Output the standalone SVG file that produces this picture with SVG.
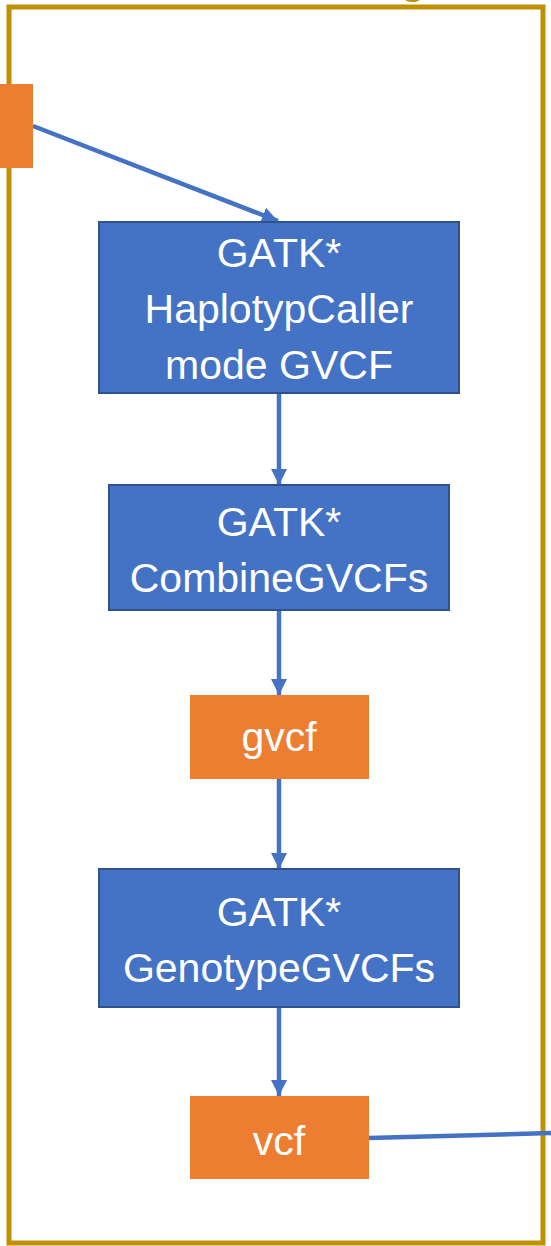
<svg xmlns="http://www.w3.org/2000/svg" width="551" height="1246" viewBox="0 0 551 1246">
<style>
.proc{fill:#4472C4;stroke:#2F528F;stroke-width:2}
.data{fill:#ED7D31}
.lbl{fill:#FFFFFF;font-family:"Liberation Sans","Open Sans",sans-serif;font-size:41px;text-anchor:middle}
.conn{stroke:#4472C4;stroke-width:4.5;fill:none}
</style>
<defs>
<marker id="ah" markerUnits="userSpaceOnUse" markerWidth="17" markerHeight="16" refX="16" refY="8" orient="auto">
<path d="M0,0 L16,8 L0,16 Z" fill="#4472C4"/>
</marker>
</defs>
<rect x="0" y="0" width="551" height="1246" fill="#FFFFFF"/>
<g id="frame">
<rect x="9" y="7" width="534" height="1236" fill="none" stroke="#BF9000" stroke-width="5"/>
<text x="413" y="-6" fill="#BF9000" font-family="Liberation Sans, sans-serif" font-size="40" font-weight="bold" text-anchor="middle">g</text>
</g>
<g id="connectors">
<line class="conn" x1="33" y1="126" x2="278" y2="221" marker-end="url(#ah)"/>
<line class="conn" x1="279" y1="394" x2="279" y2="485" marker-end="url(#ah)"/>
<line class="conn" x1="279" y1="611" x2="279" y2="695" marker-end="url(#ah)"/>
<line class="conn" x1="279" y1="779" x2="279" y2="869" marker-end="url(#ah)"/>
<line class="conn" x1="279" y1="1008" x2="279" y2="1096" marker-end="url(#ah)"/>
<line class="conn" x1="369" y1="1138" x2="551" y2="1133"/>
</g>
<g id="input">
<rect class="data" x="0" y="84" width="33" height="84"/>
</g>
<g id="haplotypecaller">
<rect class="proc" x="99" y="222" width="360" height="171"/>
<text class="lbl" x="279" y="267">GATK*</text>
<text class="lbl" x="279" y="323">HaplotypCaller</text>
<text class="lbl" x="279" y="379">mode GVCF</text>
</g>
<g id="combinegvcfs">
<rect class="proc" x="109" y="485" width="340" height="125"/>
<text class="lbl" x="279" y="536">GATK*</text>
<text class="lbl" x="279" y="592">CombineGVCFs</text>
</g>
<g id="gvcf">
<rect class="data" x="190" y="695" width="179" height="84"/>
<text class="lbl" x="279" y="751">gvcf</text>
</g>
<g id="genotypegvcfs">
<rect class="proc" x="99" y="869" width="360" height="138"/>
<text class="lbl" x="279" y="926">GATK*</text>
<text class="lbl" x="279" y="982">GenotypeGVCFs</text>
</g>
<g id="vcf">
<rect class="data" x="190" y="1096" width="179" height="83"/>
<text class="lbl" x="279" y="1155">vcf</text>
</g>
</svg>
